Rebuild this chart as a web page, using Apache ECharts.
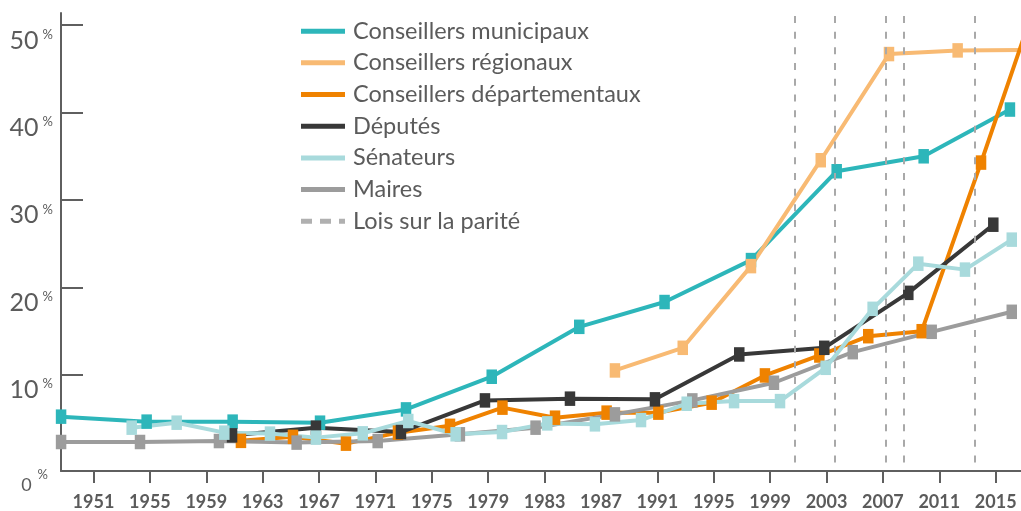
<!DOCTYPE html>
<html>
<head>
<meta charset="utf-8">
<script src="https://cdn.jsdelivr.net/npm/echarts@6/dist/echarts.min.js"></script>
<style>
html,body{margin:0;padding:0;background:#fff;}
#chart{width:1021px;height:511px;}
</style>
</head>
<body>
<div id="chart"></div>
<script>
// ---- data (x = position on the year axis, y = share of women in %) ----
var yearTicks = [1951,1955,1959,1963,1967,1971,1975,1979,1983,1987,1991,1995,1999,2003,2007,2011,2015];
var pctTicks = [10,20,30,40,50];

var municipauxX = [1948.7,1954.77,1960.87,1967.07,1973.17,1979.25,1985.46,1991.51,1997.64,2003.72,2009.89,2016.01];
var municipauxY = [5.19,4.62,4.62,4.50,6.02,9.76,15.47,18.31,23.11,33.28,34.99,40.34];

var regionauxX = [1987.99,1992.80,1997.64,2002.59,2007.43,2012.30,2017.15];
var regionauxY = [10.48,13.07,22.42,34.54,46.69,47.11,47.17];

var departementauxX = [1961.46,1965.15,1968.91,1972.60,1976.29,1980.01,1983.74,1987.40,1991.07,1994.85,1998.63,2002.49,2005.96,2009.75,2013.96,2017.29];
var departementauxY = [2.42,2.88,2.10,3.36,4.14,6.22,5.07,5.65,5.65,6.79,9.91,12.19,14.40,14.97,34.27,50.0];

var deputesX = [1960.83,1966.78,1972.81,1978.77,1984.80,1990.83,1996.81,2002.84,2008.80,2014.83];
var deputesY = [3.05,3.93,3.43,7.05,7.25,7.17,12.31,13.07,19.36,27.16];

var senateursX = [1953.71,1956.90,1960.28,1963.52,1966.78,1970.10,1973.33,1976.69,1979.98,1983.19,1986.57,1989.84,1993.08,1996.44,1999.70,2002.94,2006.27,2009.51,2012.82,2016.14];
var senateursY = [3.93,4.50,3.36,3.25,2.79,3.28,4.69,3.17,3.43,4.42,4.31,4.80,6.67,6.97,6.97,10.78,17.53,22.70,22.02,25.45];

var mairesX = [1948.7,1954.30,1959.90,1965.41,1971.16,1976.99,1982.36,1987.99,1993.48,1999.27,2004.86,2010.46,2016.14];
var mairesY = [2.29,2.29,2.40,2.22,2.40,3.17,3.93,5.45,7.05,9.07,12.57,14.90,17.19];

var loisParite = [2000.71,2003.55,2007.22,2008.47,2013.54];

var names = ['Conseillers municipaux','Conseillers régionaux','Conseillers départementaux','Députés','Sénateurs','Maires','Lois sur la parité'];
// ----------------------------------------------------------------------

var FONT = 'Lato';
var TXT = '#5b5b5b';
var yMin = -1.03, yMax = 51.39, zeroLabelPos = -0.38;

function pairs(xs, ys){ return xs.map(function(x,i){ return [x, ys[i]]; }); }

function lineSeries(name, xs, ys, color){
  return {
    name: name, type: 'line', data: pairs(xs, ys),
    symbol: 'rect', symbolSize: [10.5, 14.5],
    itemStyle: {color: color},
    lineStyle: {color: color, width: 4},
    emphasis: {disabled: true},
    animation: false
  };
}

var colors = {
  mun: '#2db6ba', reg: '#f8ba73', dep: '#ef8200', dep2: '#383838', sen: '#a8dadc', mai: '#9c9c9c', loi: '#b0b0b0'
};

var option = {
  backgroundColor: '#fff',
  animation: false,
  grid: {left: 61, right: 0, top: 13, bottom: 39.3},
  legend: {
    orient: 'vertical', left: 301, top: 19.2, padding: 0,
    itemWidth: 44, itemHeight: 5, itemGap: 7.67,
    textStyle: {fontFamily: FONT, fontSize: 23.5, color: TXT, lineHeight: 24, padding: [0,0,0,3]},
    selectedMode: false,
    data: [
      {name: names[0], icon: 'rect'},
      {name: names[1], icon: 'rect'},
      {name: names[2], icon: 'rect'},
      {name: names[3], icon: 'rect'},
      {name: names[4], icon: 'rect'},
      {name: names[5], icon: 'rect'},
      {name: names[6], icon: 'path://M0,0h11v5h-11z M19,0h11v5h-11z M38,0h6v5h-6z'}
    ]
  },
  xAxis: {
    type: 'value', min: 1948.695, max: 2016.795,
    axisLine: {show: true, onZero: false, lineStyle: {color: '#5f5f5f', width: 2}},
    axisTick: {show: true, inside: false, length: 12, customValues: yearTicks, lineStyle: {color: '#5f5f5f', width: 2}},
    axisLabel: {customValues: yearTicks, margin: 22, fontFamily: FONT, fontWeight: 'bold', fontSize: 18, color: TXT,
      formatter: function(v){ return String(Math.round(v)); }},
    splitLine: {show: false}
  },
  yAxis: {
    type: 'value', min: yMin, max: yMax,
    axisLine: {show: true, onZero: false, lineStyle: {color: '#5f5f5f', width: 2}},
    axisTick: {show: true, inside: true, length: 22, customValues: pctTicks, lineStyle: {color: '#5f5f5f', width: 2}},
    axisLabel: {
      customValues: [zeroLabelPos].concat(pctTicks), margin: 8, verticalAlign: 'top', align: 'right',
      padding: [3,0,0,0],
      fontFamily: FONT, color: TXT,
      formatter: function(v){
        if (v < 1) return '{z|0}{pz|%}';
        return '{n|' + Math.round(v) + '}{p|%}';
      },
      rich: {
        n: {fontFamily: FONT, fontSize: 25, lineHeight: 25, color: TXT},
        p: {fontFamily: FONT, fontSize: 13, lineHeight: 13, color: TXT, verticalAlign: 'top', padding: [0,0,0,4]},
        z: {fontFamily: FONT, fontSize: 18, lineHeight: 26, color: TXT, verticalAlign: 'bottom'},
        pz: {fontFamily: FONT, fontSize: 13, lineHeight: 13, color: TXT, verticalAlign: 'top', padding: [0,5,0,6]}
      }
    },
    splitLine: {show: false}
  },
  series: [
    lineSeries(names[0], municipauxX, municipauxY, colors.mun),
    lineSeries(names[1], regionauxX, regionauxY, colors.reg),
    lineSeries(names[2], departementauxX, departementauxY, colors.dep),
    lineSeries(names[3], deputesX, deputesY, colors.dep2),
    lineSeries(names[5], mairesX, mairesY, colors.mai),
    lineSeries(names[4], senateursX, senateursY, colors.sen),
    {
      name: names[6], type: 'line', data: [],
      itemStyle: {color: colors.loi}, lineStyle: {color: colors.loi},
      z: 1,
      markLine: {
        silent: true, symbol: ['none','none'], label: {show: false},
        lineStyle: {color: '#a9a9a9', width: 2, type: [7, 8.7]},
        emphasis: {disabled: true},
        data: loisParite.map(function(x){ return [{coord: [x, 51.05]}, {coord: [x, yMin]}]; })
      }
    }
  ]
};

var chart = echarts.init(document.getElementById('chart'), null, {renderer: 'canvas'});
chart.setOption(option);
</script>
</body>
</html>
